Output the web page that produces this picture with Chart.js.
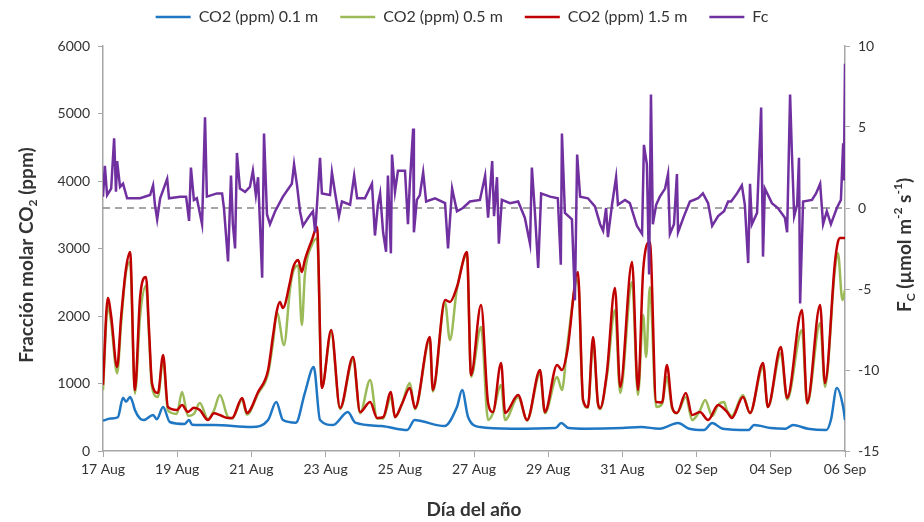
<!DOCTYPE html>
<html>
<head>
<meta charset="utf-8">
<script src="https://cdn.jsdelivr.net/npm/chart.js@4.4.1/dist/chart.umd.min.js"></script>
<style>
  html, body { margin: 0; padding: 0; background: #fff; }
</style>
</head>
<body>
<canvas id="myChart" width="924" height="522"></canvas>
<script>
// etiquetas del eje x (cada 2 dias)
const xLabels = ['17 Aug', '19 Aug', '21 Aug', '23 Aug', '25 Aug', '27 Aug', '29 Aug', '31 Aug', '02 Sep', '04 Sep', '06 Sep'];

// CO2 0.1 m (dias desde 17 Aug, ppm)
const t01 = [0, 0.2, 0.4, 0.54, 0.62, 0.73, 0.8, 0.86, 1.0, 1.1, 1.35, 1.45, 1.62, 1.8, 2.2, 2.32, 2.4, 3.0, 4.0, 4.45, 4.67, 4.85, 5.2, 5.44, 5.68, 5.85, 6.2, 6.6, 6.8, 7.5, 8.2, 8.4, 8.6, 9.2, 9.54, 9.68, 9.84, 10.16, 11.0, 12.2, 12.35, 12.55, 13.0, 14.0, 14.5, 15.0, 15.5, 15.8, 16.2, 16.42, 16.7, 17.4, 17.55, 18.0, 18.4, 18.6, 19.0, 19.5, 19.62, 19.78, 19.95, 20];
const v01 = [450, 480, 500, 790, 730, 800, 720, 607, 480, 459, 533, 470, 652, 430, 400, 459, 390, 385, 355, 459, 725, 459, 420, 859, 1244, 459, 385, 578, 420, 370, 311, 459, 440, 370, 652, 903, 504, 355, 330, 340, 415, 340, 330, 340, 355, 330, 415, 330, 311, 415, 330, 311, 385, 340, 330, 385, 330, 311, 459, 933, 652, 459];

// CO2 0.5 m
const t05 = [0, 0.13, 0.22, 0.38, 0.49, 0.62, 0.73, 0.86, 1.0, 1.16, 1.24, 1.32, 1.48, 1.62, 1.75, 1.99, 2.13, 2.29, 2.45, 2.61, 2.83, 2.99, 3.15, 3.37, 3.48, 3.75, 3.88, 4.18, 4.45, 4.58, 4.69, 4.88, 5.04, 5.12, 5.26, 5.36, 5.44, 5.63, 5.77, 5.9, 6.15, 6.39, 6.74, 6.93, 7.2, 7.39, 7.55, 7.76, 7.87, 8.06, 8.27, 8.41, 8.81, 8.89, 9.22, 9.35, 9.54, 9.81, 9.92, 10.19, 10.38, 10.51, 10.73, 10.84, 11.19, 11.43, 11.78, 11.91, 12.24, 12.37, 12.51, 12.8, 12.94, 13.07, 13.21, 13.34, 13.4, 13.58, 13.8, 13.94, 14.26, 14.42, 14.56, 14.64, 14.74, 14.91, 15.07, 15.2, 15.34, 15.47, 15.71, 15.88, 16.09, 16.23, 16.42, 16.58, 16.74, 16.82, 16.95, 17.25, 17.44, 17.79, 17.92, 18.27, 18.44, 18.84, 18.98, 19.33, 19.46, 19.73, 19.81, 19.93, 20];
const v05 = [900, 2150, 1900, 1150, 1900, 2650, 2800, 850, 2000, 2450, 1700, 950, 800, 1350, 600, 550, 874, 520, 550, 711, 470, 600, 829, 500, 480, 760, 540, 850, 1150, 1600, 2050, 1570, 2400, 2650, 2750, 1866, 2600, 3050, 3150, 950, 1750, 620, 1350, 560, 1052, 480, 480, 800, 500, 700, 1007, 620, 1650, 880, 2200, 1644, 2400, 2900, 1100, 1837, 459, 560, 977, 459, 800, 450, 1150, 560, 1096, 903, 1540, 2550, 740, 640, 1600, 700, 620, 1100, 2088, 859, 2503, 829, 2014, 1392, 2429, 652, 700, 1096, 630, 560, 800, 459, 600, 755, 520, 681, 725, 600, 520, 830, 560, 1250, 650, 1450, 760, 1792, 700, 1896, 950, 2700, 2930, 2236, 2384];

// CO2 1.5 m
const t15 = [0, 0.13, 0.22, 0.38, 0.49, 0.62, 0.73, 0.86, 1.0, 1.16, 1.24, 1.32, 1.48, 1.62, 1.75, 1.99, 2.13, 2.29, 2.45, 2.61, 2.83, 2.99, 3.15, 3.37, 3.48, 3.75, 3.88, 4.18, 4.45, 4.58, 4.69, 4.77, 4.85, 5.04, 5.12, 5.26, 5.36, 5.44, 5.63, 5.77, 5.9, 6.15, 6.39, 6.74, 6.93, 7.2, 7.39, 7.55, 7.76, 7.87, 8.06, 8.27, 8.41, 8.81, 8.89, 9.22, 9.35, 9.54, 9.81, 9.92, 10.19, 10.38, 10.51, 10.73, 10.84, 11.19, 11.43, 11.78, 11.91, 12.24, 12.37, 12.51, 12.8, 12.94, 13.07, 13.21, 13.34, 13.4, 13.58, 13.8, 13.94, 14.26, 14.42, 14.56, 14.74, 14.91, 15.07, 15.2, 15.34, 15.47, 15.71, 15.88, 16.09, 16.31, 16.58, 16.82, 16.95, 17.25, 17.44, 17.79, 17.92, 18.27, 18.44, 18.84, 18.98, 19.33, 19.46, 19.73, 19.81, 19.87, 20];
const v15 = [980, 2266, 2000, 1244, 2000, 2700, 2947, 903, 2281, 2577, 1800, 1007, 859, 1422, 652, 607, 681, 578, 640, 607, 459, 560, 533, 489, 489, 785, 563, 874, 1200, 1700, 2088, 2207, 2118, 2500, 2710, 2829, 2651, 2829, 3125, 3318, 933, 1792, 637, 1392, 578, 725, 489, 500, 874, 504, 700, 933, 637, 1688, 903, 2236, 2207, 2429, 2947, 1126, 2162, 711, 578, 1303, 563, 829, 459, 1200, 578, 1274, 1200, 1466, 2651, 755, 652, 1688, 711, 637, 1155, 2414, 948, 2799, 903, 2681, 3095, 725, 720, 1274, 652, 563, 859, 533, 578, 459, 681, 578, 489, 800, 563, 1303, 652, 1540, 785, 2088, 711, 2162, 1007, 2800, 3100, 3155, 3155];

// Fc (umol m-2 s-1)
const tFc = [0, 0.05, 0.11, 0.22, 0.3, 0.35, 0.38, 0.46, 0.54, 0.65, 1.0, 1.27, 1.35, 1.4, 1.46, 1.54, 1.73, 1.78, 2.08, 2.24, 2.32, 2.37, 2.45, 2.53, 2.67, 2.75, 2.8, 3.07, 3.21, 3.26, 3.37, 3.45, 3.5, 3.56, 3.61, 3.69, 3.83, 3.96, 4.04, 4.12, 4.18, 4.29, 4.34, 4.42, 4.5, 4.64, 4.85, 5.09, 5.15, 5.23, 5.31, 5.39, 5.53, 5.66, 5.72, 5.85, 5.9, 6.12, 6.17, 6.25, 6.36, 6.44, 6.66, 6.77, 6.85, 7.06, 7.25, 7.33, 7.41, 7.47, 7.55, 7.63, 7.68, 7.76, 7.79, 7.87, 7.95, 8.14, 8.22, 8.27, 8.36, 8.38, 8.46, 8.54, 8.63, 8.71, 8.95, 9.22, 9.3, 9.41, 9.54, 9.7, 9.89, 10.16, 10.3, 10.38, 10.43, 10.49, 10.54, 10.62, 10.67, 10.75, 10.97, 11.19, 11.37, 11.51, 11.56, 11.64, 11.73, 11.81, 12.05, 12.26, 12.34, 12.37, 12.45, 12.64, 12.72, 12.78, 12.86, 13.07, 13.26, 13.4, 13.48, 13.56, 13.61, 13.72, 13.83, 13.88, 14.07, 14.2, 14.39, 14.53, 14.58, 14.66, 14.72, 14.77, 14.82, 14.91, 15.01, 15.15, 15.23, 15.28, 15.39, 15.47, 15.5, 15.66, 15.82, 16.04, 16.17, 16.31, 16.42, 16.58, 16.74, 16.85, 16.93, 17.09, 17.22, 17.3, 17.39, 17.44, 17.49, 17.63, 17.74, 17.79, 17.84, 18.03, 18.19, 18.38, 18.44, 18.52, 18.57, 18.63, 18.71, 18.76, 18.79, 18.87, 19.11, 19.22, 19.33, 19.41, 19.51, 19.62, 19.78, 19.89, 19.95, 19.97, 20];
const vFc = [0.7, 2.6, 0.8, 1.2, 4.3, 1.0, 2.9, 1.3, 1.5, 0.6, 0.6, 0.8, 1.4, 0.2, -0.7, 0.6, 1.8, 0.6, 0.7, 0.7, -0.8, 2.5, 0.5, 0.6, -1.0, 5.6, 0.7, 0.9, 0.9, 0.0, -3.3, 2.0, -1.0, -2.5, 3.4, 1.2, 1.0, 1.3, 2.3, 0.8, 1.9, -4.3, 4.6, -0.4, -1.0, -0.2, 0.7, 1.5, 2.7, 1.4, -0.2, -1.1, -0.6, -0.2, -1.5, 3.1, 0.9, 0.8, 2.2, 1.0, -0.5, 0.4, 0.2, 2.0, 0.6, 0.6, 1.5, -1.7, 0.2, 0.9, -1.5, -2.7, 2.0, -2.8, 3.3, 1.0, 2.3, 2.3, -1.0, 1.5, 4.9, -1.5, 0.5, 0.8, 2.2, 0.4, 0.6, 0.3, -2.5, 1.2, -0.2, 0.0, 0.4, 0.5, 2.0, -0.6, 1.0, 2.9, -0.5, 1.9, -2.2, 0.5, 0.3, 0.4, -0.6, -2.2, 2.5, -0.2, -3.7, 0.9, 0.7, 0.6, -3.5, 4.6, -0.3, -0.7, -5.7, 3.3, 0.7, 0.6, 0.1, -1.0, -1.4, 0.0, -1.8, 0.2, 1.9, 0.2, 0.5, 0.3, -1.1, -1.6, 3.9, 2.7, -4.1, 7.0, -1.0, 0.2, 0.7, 1.2, 2.1, -1.6, -1.0, 2.1, -1.5, -0.5, 0.4, 0.6, 0.9, 0.3, -1.1, -0.5, -0.2, 0.4, 0.4, 0.9, 1.4, 0.2, -3.4, 1.5, -1.0, -0.3, 6.2, -3.0, 1.2, 0.3, 0.0, -0.6, -1.5, 7.0, 3.3, -0.5, 0.2, 3.1, -5.9, 0.4, 0.5, 0.9, 1.5, -1.0, -0.2, -1.0, 0.0, 0.5, 4.0, 1.7, 8.9];

// linea de referencia Fc = 0
const zeroLine = [0, 20];

const pts = (t, v) => t.map((d, i) => ({ x: d, y: v[i] }));

const FONT = 'Lato, "Open Sans", sans-serif';
const TXT = '#333333';
const AXIS = '#A6A6A6';

// titulos de ejes con subindices / superindices
function drawRich(ctx, parts, size, cx, cy) {
  const small = Math.round(size * 0.65);
  let w = 0;
  parts.forEach(p => {
    ctx.font = 'bold ' + (p.s ? small : size) + 'px ' + FONT;
    p.w = ctx.measureText(p.t).width;
    w += p.w;
  });
  let x = cx - w / 2;
  parts.forEach(p => {
    ctx.font = 'bold ' + (p.s ? small : size) + 'px ' + FONT;
    const dy = p.s === 'sub' ? size * 0.3 : (p.s === 'sup' ? -size * 0.35 : 0);
    ctx.fillText(p.t, x, cy + dy);
    x += p.w;
  });
}

const axisTitles = {
  id: 'axisTitles',
  afterDraw(chart) {
    const ctx = chart.ctx;
    const a = chart.chartArea;
    ctx.save();
    ctx.fillStyle = TXT;
    ctx.textBaseline = 'middle';
    ctx.textAlign = 'left';
    // abajo
    drawRich(ctx, [{ t: 'Día del año' }], 19, (a.left + a.right) / 2, 510);
    // izquierda
    ctx.save();
    ctx.translate(27, 255);
    ctx.rotate(-Math.PI / 2);
    drawRich(ctx, [{ t: 'Fracción molar CO' }, { t: '2', s: 'sub' }, { t: ' (ppm)' }], 19, 0, 0);
    ctx.restore();
    // derecha
    ctx.save();
    ctx.translate(905, 245);
    ctx.rotate(-Math.PI / 2);
    drawRich(ctx, [{ t: 'F' }, { t: 'C', s: 'sub' }, { t: ' (µmol m' }, { t: '-2', s: 'sup' }, { t: ' s' }, { t: '-1', s: 'sup' }, { t: ')' }], 19, 0, 0);
    ctx.restore();
    ctx.restore();
  }
};

// leyenda: alto fijo y subida un poco
const legendBox = {
  id: 'legendBox',
  beforeInit(chart) {
    const lg = chart.legend;
    const fit = lg.fit;
    lg.fit = function () {
      fit.call(this);
      this.height = 46;
    };
    const draw = lg.draw;
    lg.draw = function () {
      this.top -= 13;
      draw.call(this);
      this.top += 13;
    };
  }
};

const ctx = document.getElementById('myChart');

const config = {
  type: 'line',
  data: {
    datasets: [
      { label: 'CO2 (ppm) 0.1 m', data: pts(t01, v01), borderColor: '#1F77C4', borderWidth: 2.5, yAxisID: 'y', order: 5, cubicInterpolationMode: 'monotone' },
      { label: 'CO2 (ppm) 0.5 m', data: pts(t05, v05), borderColor: '#9BBB59', borderWidth: 2.5, yAxisID: 'y', order: 4, cubicInterpolationMode: 'monotone' },
      { label: 'CO2 (ppm) 1.5 m', data: pts(t15, v15), borderColor: '#C00000', borderWidth: 2.5, yAxisID: 'y', order: 3, cubicInterpolationMode: 'monotone' },
      { label: 'Fc', data: pts(tFc, vFc), borderColor: '#7030A0', borderWidth: 2.5, yAxisID: 'y2', order: 1 },
      { label: 'cero', data: pts(zeroLine, [0, 0]), borderColor: '#888888', borderWidth: 1.5, borderDash: [7, 5], yAxisID: 'y2', order: 2 }
    ]
  },
  options: {
    responsive: false,
    animation: false,
    elements: {
      point: { radius: 0 },
      line: { fill: false }
    },
    layout: { padding: 0 },
    plugins: {
      tooltip: { enabled: false },
      legend: {
        position: 'top',
        labels: {
          usePointStyle: true,
          pointStyle: 'line',
          pointStyleWidth: 35,
          padding: 22,
          color: TXT,
          font: { family: FONT, size: 16 },
          filter: item => item.datasetIndex < 4,
          sort: (a, b) => a.datasetIndex - b.datasetIndex
        }
      }
    },
    scales: {
      x: {
        type: 'linear',
        min: 0,
        max: 20,
        ticks: {
          stepSize: 2,
          color: TXT,
          font: { family: FONT, size: 14 },
          maxRotation: 0,
          padding: 4,
          callback: v => xLabels[v / 2]
        },
        grid: { drawOnChartArea: false, color: AXIS, tickLength: 6 },
        border: { color: AXIS, width: 1.5 },
        afterFit: s => { s.height = 71; }
      },
      y: {
        position: 'left',
        min: 0,
        max: 6000,
        ticks: { stepSize: 1000, color: TXT, font: { family: FONT, size: 14 }, padding: 8, callback: v => String(v) },
        grid: { drawOnChartArea: false, color: AXIS, tickLength: 5 },
        border: { color: AXIS, width: 1.5 },
        afterFit: s => { s.width = 103; }
      },
      y2: {
        position: 'right',
        min: -15,
        max: 10,
        ticks: { stepSize: 5, color: TXT, font: { family: FONT, size: 14 }, padding: 8, callback: v => String(v) },
        grid: { drawOnChartArea: false, color: AXIS, tickLength: 5 },
        border: { color: AXIS, width: 1.5 },
        afterFit: s => { s.width = 79; }
      }
    }
  },
  plugins: [legendBox, axisTitles]
};

const myChart = new Chart(ctx, config);
</script>
</body>
</html>
